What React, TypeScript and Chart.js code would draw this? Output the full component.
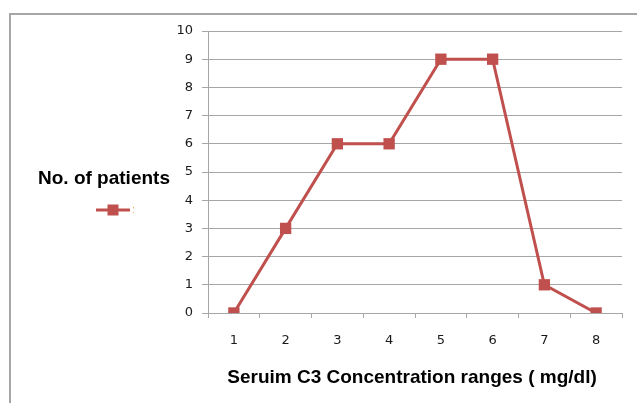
import React, { useEffect, useRef } from "react";
import { Chart, registerables } from "chart.js";

Chart.register(...registerables);

const categories = ["1", "2", "3", "4", "5", "6", "7", "8"];
const patients = [0, 3, 6, 6, 9, 9, 1, 0];
const yTitle = "No. of patients";
const xTitle = "Seruim C3 Concentration ranges ( mg/dl)";
const lineColor = "#c0504d";

const decorPlugin = {
  id: "decor",
  afterDraw(chart: any) {
    const ctx = chart.ctx as CanvasRenderingContext2D;
    ctx.save();
    // frame
    ctx.strokeStyle = "#a6a6a6";
    ctx.lineWidth = 2;
    ctx.beginPath();
    ctx.moveTo(637, 14);
    ctx.lineTo(10, 14);
    ctx.lineTo(10, 403);
    ctx.stroke();
    // titles
    ctx.fillStyle = "#000";
    ctx.font = "bold 19px 'Liberation Sans', Arial, sans-serif";
    ctx.textBaseline = "middle";
    ctx.textAlign = "left";
    ctx.fillText(yTitle, 38, 179);
    const ca = chart.chartArea;
    ctx.textAlign = "center";
    ctx.fillText(xTitle, (ca.left + ca.right) / 2 - 3, 378);
    // legend
    ctx.strokeStyle = lineColor;
    ctx.lineWidth = 3;
    ctx.beginPath();
    ctx.moveTo(96, 210);
    ctx.lineTo(130, 210);
    ctx.stroke();
    ctx.fillStyle = lineColor;
    ctx.fillRect(107.5, 204.5, 11, 11);
    ctx.fillStyle = "#f0a040";
    ctx.font = "10px 'Liberation Sans', Arial, sans-serif";
    ctx.textAlign = "left";
    ctx.fillText(":", 132, 210);
    ctx.restore();
  },
};

export default function App() {
  const ref = useRef<HTMLCanvasElement>(null);
  useEffect(() => {
    if (!ref.current) return;
    const chart = new Chart(ref.current, {
      type: "line",
      data: {
        labels: categories,
        datasets: [
          {
            label: "",
            data: patients,
            borderColor: lineColor,
            backgroundColor: lineColor,
            borderWidth: 3,
            pointStyle: "rect",
            pointRadius: 8,
            pointHoverRadius: 8,
            pointBackgroundColor: lineColor,
            pointBorderColor: lineColor,
            pointBorderWidth: 0,
            tension: 0,
          },
        ],
      },
      options: {
        animation: false,
        responsive: false,
        maintainAspectRatio: false,
        layout: { padding: { left: 0, top: 31, right: 15, bottom: 0 } },
        plugins: { legend: { display: false }, tooltip: { enabled: false }, title: { display: false } },
        scales: {
          x: {
            offset: true,
            afterFit(s: any) {
              s.height = 90;
            },
            grid: {
              offset: true,
              drawOnChartArea: false,
              drawTicks: true,
              tickLength: 5,
              color: "#a6a6a6",
            },
            border: { color: "#a6a6a6", width: 1 },
            ticks: {
              padding: 15,
              color: "#1a1a1a",
              font: { family: "'DejaVu Sans', Verdana, sans-serif", size: 13 },
              maxRotation: 0,
            },
          },
          y: {
            min: 0,
            max: 10,
            afterFit(s: any) {
              s.width = 208;
            },
            grid: { color: "#a6a6a6", tickLength: 6, lineWidth: 1 },
            border: { color: "#a6a6a6", width: 1 },
            ticks: {
              stepSize: 1,
              padding: 9,
              color: "#1a1a1a",
              font: { family: "'DejaVu Sans', Verdana, sans-serif", size: 13 },
            },
          },
        },
      },
      plugins: [decorPlugin],
    });
    return () => chart.destroy();
  }, []);
  return (
    <div style={{ position: "fixed", left: 0, top: 0, width: 637, height: 403, background: "#fff" }}>
      <canvas ref={ref} width={637} height={403} style={{ width: 637, height: 403, display: "block" }} />
    </div>
  );
}
